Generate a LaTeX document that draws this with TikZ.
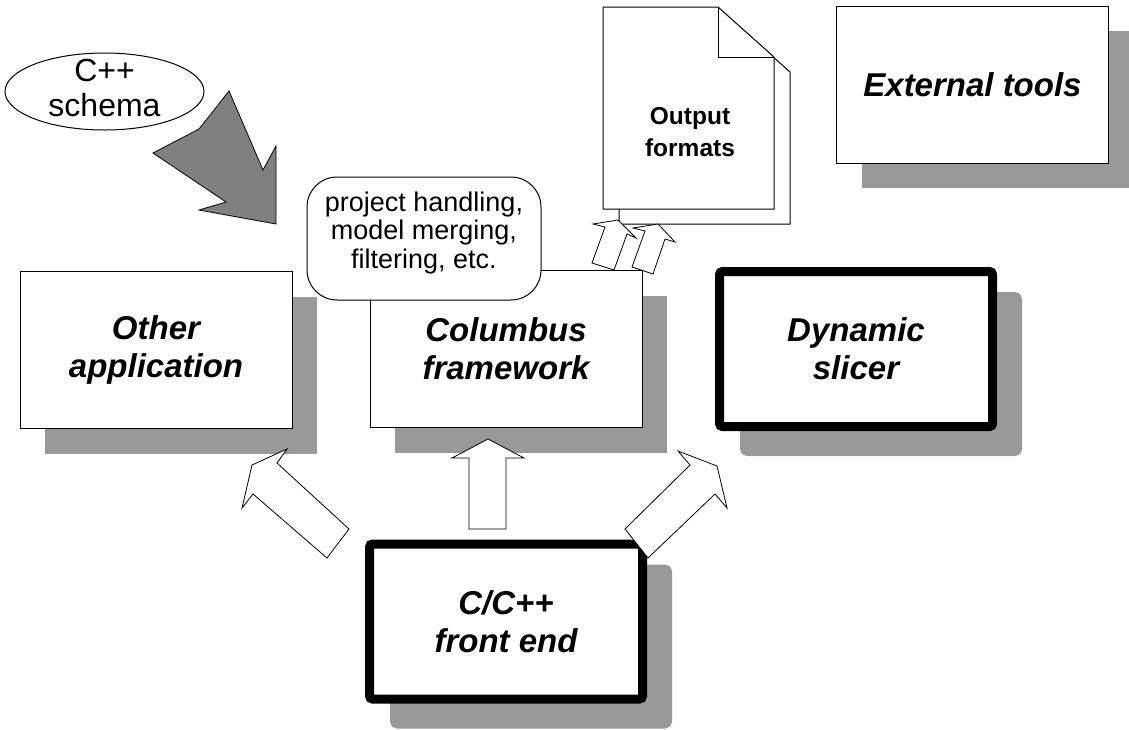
\documentclass[tikz,border=0pt]{standalone}
\usepackage{fontspec}
\setmainfont{Liberation Sans}
\usepackage{tikz}
\usepackage{xcolor}
\usetikzlibrary{shapes.geometric,shadows}

\definecolor{shadowgray}{gray}{0.6}
\definecolor{schemagray}{gray}{0.5}

\tikzset{
  appbox/.style={draw, fill=white, line width=1pt, align=center, inner sep=0pt,
    minimum width=272pt, minimum height=157pt,
    font=\fontsize{33}{38}\selectfont\bfseries\itshape,
    drop shadow={shadow xshift=25pt, shadow yshift=-25pt, opacity=1, fill=shadowgray}},
  thickbox/.style={appbox, line width=9pt, rounded corners=3pt,
    minimum width=273pt, minimum height=155pt,
    drop shadow={shadow xshift=25pt, shadow yshift=-25pt, opacity=1, fill=shadowgray,
      draw=shadowgray, line width=9pt}},
  notebox/.style={draw, fill=white, line width=1pt, rounded corners=30pt,
    inner sep=0pt, minimum width=234pt, minimum height=123pt},
  notetext/.style={align=center, inner sep=0pt, font=\fontsize{27}{28.5}\selectfont},
  schemanode/.style={draw, ellipse, fill=white, line width=1pt, inner sep=0pt,
    minimum width=199pt, minimum height=77pt},
  schematext/.style={align=center, inner sep=0pt, font=\fontsize{32}{35}\selectfont},
  doctext/.style={align=center, font=\fontsize{24.5}{32}\selectfont\bfseries},
  hollowarrow/.style={draw, fill=white, line width=0.8pt, line join=miter},
  page/.style={draw, fill=white, line width=1pt}
}

\begin{document}
\begin{tikzpicture}[x=1pt, y=-1pt]
\useasboundingbox (0,0) rectangle (1129,729);

% Boxes
\node[appbox] (external) at (972.5,84.5) {External tools};
\node[appbox] (other) at (156,350) {Other\\application};
\node[appbox] (columbus) at (506,349) {Columbus\\framework};
\node[thickbox] (slicer) at (856,349) {Dynamic\\slicer};
\node[thickbox] (frontend) at (506,621.5) {C/C++\\front end};

% Output formats (two pages)
\draw[page] (619,22) -- (734,22) -- (790,72) -- (790,224) -- (619,224) -- cycle;
\draw[page] (603,7) -- (718,7) -- (774,57) -- (774,209) -- (603,209) -- cycle;
\draw[line width=1pt] (718,7) -- (718,57) -- (774,57);
\node[doctext] (output) at (690,132) {Output\\formats};

% Project handling note
\node[notebox] (note) at (424,238.5) {};
\node[notetext] (notelabel) at (424,233) {project handling,\\model merging,\\filtering, etc.};

% C++ schema
\node[schemanode] (schema) at (104.5,91.5) {};
\node[schematext] (schemalabel) at (104.5,88) {C++\\schema};
\filldraw[fill=schemagray, line width=0.8pt] (229,91) -- (199,129) -- (153,153) -- (226,202)
  -- (199,210) -- (276,224) -- (276,146) -- (263,170) -- cycle;

% Arrows from the front end
\draw[hollowarrow] (469,529) -- (469,458) -- (452,458) -- (488,439) -- (524,458)
  -- (506,458) -- (506,529) -- cycle;
\draw[hollowarrow] (327,558) -- (253,494) -- (242,508) -- (252,465) -- (287,449)
  -- (277,463) -- (349,529) -- cycle;
\draw[hollowarrow] (648,558) -- (715,494) -- (727,508) -- (717,466) -- (678,451)
  -- (690,465) -- (625,529) -- cycle;

% Arrows to the output formats
\draw[hollowarrow] (592,263) -- (605,227) -- (593,224) -- (618,220) -- (636,238)
  -- (627,234) -- (614,270) -- cycle;
\draw[hollowarrow] (632,267) -- (645,231) -- (633,228) -- (658,224) -- (675,242)
  -- (665,239) -- (653,274) -- cycle;
\end{tikzpicture}
\end{document}
